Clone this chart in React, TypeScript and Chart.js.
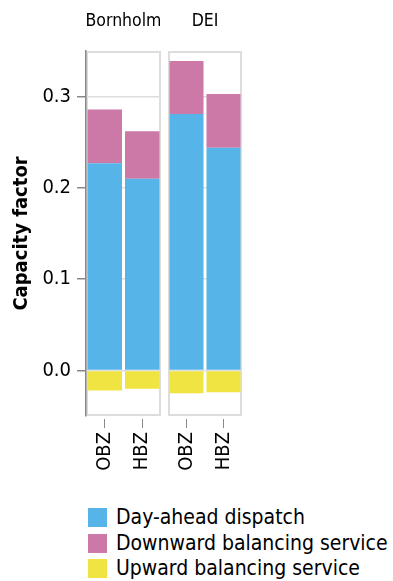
import React, { useEffect, useRef } from "react";
import { Chart, registerables } from "chart.js";
Chart.register(...registerables);

const facets = ["Bornholm", "DEI"];
const categories = ["OBZ", "HBZ"];
const seriesNames = ["Day-ahead dispatch", "Downward balancing service", "Upward balancing service"];
const seriesColors = ["#56B4E9", "#CC79A7", "#F0E442"];
const dayAheadBornholm = [0.227, 0.21];
const dayAheadDEI = [0.281, 0.244];
const downwardBornholm = [0.059, 0.052];
const downwardDEI = [0.058, 0.059];
const upwardBornholm = [-0.022, -0.02];
const upwardDEI = [-0.025, -0.024];
const yTicks = [0, 0.1, 0.2, 0.3];
const yMin = -0.05;
const yMax = 0.35;
const yTitle = "Capacity factor";

const FONT = "'DejaVu Sans Condensed', 'DejaVu Sans', sans-serif";

const facetPlugin = {
  id: "facetFrame",
  beforeDraw(chart: any, _args: any, opts: any) {
    const { ctx, chartArea: a } = chart;
    ctx.save();
    ctx.strokeStyle = "#dddddd";
    ctx.lineWidth = 2;
    const l = Math.round(a.left) + 1;
    const t = Math.round(a.top) + 1;
    const r = Math.round(a.right) - 1;
    const b = Math.round(a.bottom) - 1;
    ctx.strokeRect(l, t, r - l, b - t);
    ctx.fillStyle = "#000";
    ctx.font = `17.5px ${FONT}`;
    ctx.textAlign = "center";
    ctx.textBaseline = "alphabetic";
    ctx.fillText(opts.text, (a.left + a.right) / 2, 26);
    ctx.restore();
  },
};

function FacetChart(props: { title: string; series: number[][]; showY: boolean; left: number; width: number }) {
  const ref = useRef<HTMLCanvasElement | null>(null);
  useEffect(() => {
    const { title, series, showY } = props;
    const chart = new Chart(ref.current as HTMLCanvasElement, {
      type: "bar",
      data: {
        labels: categories,
        datasets: series.map((vals, i) => ({
          label: seriesNames[i],
          data: vals,
          backgroundColor: seriesColors[i],
          borderWidth: 0,
          categoryPercentage: 0.92,
          barPercentage: 1,
        })),
      },
      plugins: [facetPlugin as any],
      options: {
        animation: false,
        responsive: false,
        maintainAspectRatio: false,
        devicePixelRatio: 1,
        layout: { padding: { top: 51, right: 1, left: showY ? 0 : 1, bottom: 0 } },
        plugins: {
          legend: { display: false },
          tooltip: { enabled: false },
          facetFrame: { text: title },
        } as any,
        scales: {
          x: {
            stacked: true,
            grid: {
              display: true,
              drawOnChartArea: false,
              offset: false,
              tickLength: 12,
              tickColor: "#888",
              tickBorderDash: [0, 3, 9, 100],
              color: "#888",
            },
            border: { display: false },
            ticks: { color: "#000", font: { family: FONT, size: 20 }, maxRotation: 90, minRotation: 90, padding: 4 },
            afterFit: (s: any) => {
              s.height = 74;
              s.paddingLeft = 0;
              s.paddingRight = 0;
            },
          },
          y: {
            stacked: true,
            min: yMin,
            max: yMax,
            afterBuildTicks: (s: any) => {
              s.ticks = yTicks.map((v) => ({ value: v }));
            },
            grid: { color: "#dedede", lineWidth: 1.5, tickColor: "#888", tickWidth: 1.5, tickLength: 9, drawTicks: showY },
            border: { display: showY, color: "#888", width: 1.5 },
            ticks: {
              display: showY,
              color: "#000",
              font: { family: FONT, size: 20 },
              padding: 6,
              callback: (v: any) => Number(v).toFixed(1),
            },
            title: {
              display: showY,
              text: yTitle,
              color: "#000",
              font: { family: FONT, size: 20, weight: "bold" },
              padding: { top: 10, bottom: 0 },
            },
            afterFit: (s: any) => {
              s.width = showY ? 86 : 0;
              s.paddingTop = 0;
              s.paddingBottom = 0;
            },
          },
        },
      } as any,
    });
    return () => chart.destroy();
  }, []);
  return (
    <canvas
      ref={ref}
      width={props.width}
      height={490}
      style={{ position: "absolute", left: props.left, top: 0, width: props.width, height: 490, display: "block" }}
    />
  );
}

export default function App() {
  return (
    <div style={{ position: "absolute", left: 0, top: 0, width: 393, height: 581, background: "#fff", overflow: "hidden" }}>
      <FacetChart title={facets[0]} series={[dayAheadBornholm, downwardBornholm, upwardBornholm]} showY={true} left={0} width={162} />
      <FacetChart title={facets[1]} series={[dayAheadDEI, downwardDEI, upwardDEI]} showY={false} left={167} width={76} />
      <div style={{ position: "absolute", left: 88, top: 505, fontFamily: FONT, fontSize: 21, color: "#000" }}>
        {seriesNames.map((name, i) => (
          <div key={name} style={{ display: "flex", alignItems: "center", height: 25.5, whiteSpace: "nowrap" }}>
            <div style={{ width: 19, height: 19, background: seriesColors[i], marginRight: 9, flex: "none" }} />
            <span style={{ lineHeight: "25px" }}>{name}</span>
          </div>
        ))}
      </div>
    </div>
  );
}
